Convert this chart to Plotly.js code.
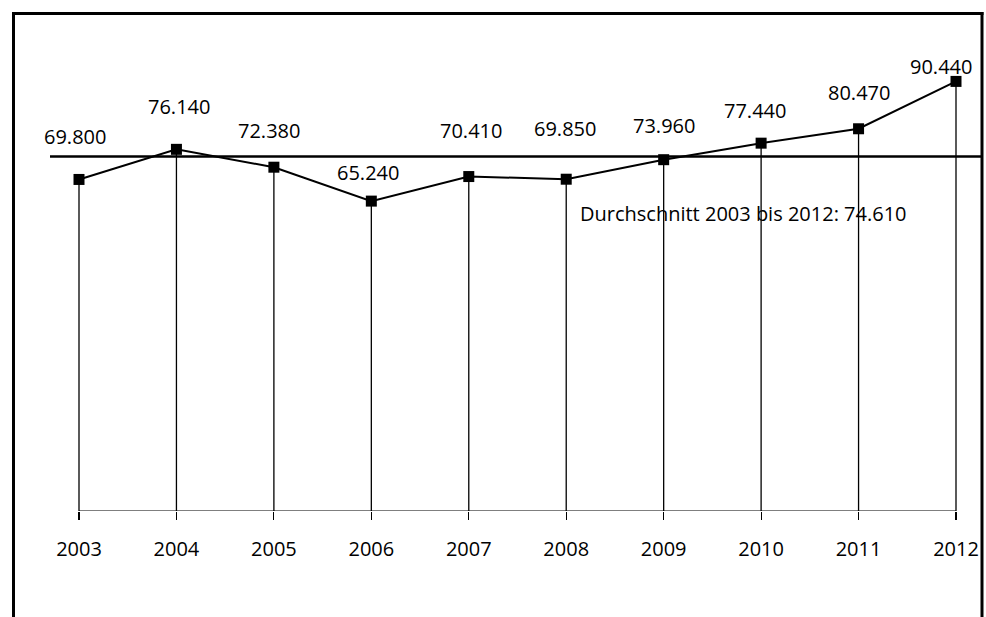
<!DOCTYPE html>
<html>
<head>
<meta charset="utf-8">
<script src="https://cdn.plot.ly/plotly-3.0.1.min.js"></script>
<style>
  html, body { margin: 0; padding: 0; background: #fff; }
  #chart { width: 986px; height: 617px; }
</style>
</head>
<body>
<div id="chart"></div>
<script>
// Yearly values 2003–2012 and their ten-year average
const years = [2003, 2004, 2005, 2006, 2007, 2008, 2009, 2010, 2011, 2012];
const values = [69800, 76140, 72380, 65240, 70410, 69850, 73960, 77440, 80470, 90440];
const avgValue = 74610;
const avgLabel = 'Durchschnitt 2003 bis 2012: ';

// Nudges (px) for the value labels above each marker
const labelLift = [43, 43, 37, 29, 46, 51, 34, 33, 36, 15];
const labelNudge = [-4, 3, -5, -3, 2, -1, 0, -6, 0, -15];

// German thousands separator
function fmt(v) {
  return String(Math.round(v)).replace(/\B(?=(\d{3})+(?!\d))/g, '.');
}

const FONT = 'Open Sans, Noto Sans, sans-serif';
const W = 986, H = 617, T = 12, B = 106;
const plotH = H - T - B;
const py = p => (H - B - p) / plotH;   // pixel row -> paper y
const px = p => p / W;                 // pixel column -> paper x

const trace = {
  x: years,
  y: values,
  type: 'scatter',
  mode: 'lines+markers',
  line: { color: '#000', width: 2 },
  marker: { symbol: 'square', size: 11, color: '#000' },
  error_y: {
    type: 'data',
    symmetric: false,
    array: values.map(() => 0),
    arrayminus: values,
    width: 0,
    thickness: 1.3,
    color: '#000'
  },
  cliponaxis: false,
  hoverinfo: 'skip'
};

const annotations = years.map((yr, i) => ({
  x: yr, y: values[i], xref: 'x', yref: 'y',
  text: fmt(values[i]),
  showarrow: false,
  yshift: labelLift[i],
  xshift: labelNudge[i],
  font: { family: FONT, size: 20, color: '#000' }
}));

annotations.push({
  x: px(578), xref: 'paper', xanchor: 'left',
  y: avgValue, yref: 'y', yshift: -57,
  text: avgLabel + fmt(avgValue),
  showarrow: false,
  font: { family: FONT, size: 20, color: '#000' }
});

const shapes = [
  // frame (open at the bottom)
  { type: 'line', xref: 'paper', yref: 'paper', x0: px(13.5), x1: px(13.5), y0: py(12), y1: py(640), line: { color: '#000', width: 3 } },
  { type: 'line', xref: 'paper', yref: 'paper', x0: px(12), x1: px(983.5), y0: py(13.5), y1: py(13.5), line: { color: '#000', width: 3 } },
  { type: 'line', xref: 'paper', yref: 'paper', x0: px(982), x1: px(982), y0: py(12), y1: py(640), line: { color: '#000', width: 3 } },
  // base line between first and last year
  { type: 'line', xref: 'x', yref: 'y', x0: years[0], x1: years[years.length - 1], y0: 0, y1: 0, line: { color: '#000', width: 1.2 } },
  // average line
  { type: 'line', xref: 'paper', yref: 'y', x0: px(50), x1: px(982), y0: avgValue, y1: avgValue, line: { color: '#000', width: 2.5 } }
];

const pxPerYear = 877 / 9;
const layout = {
  width: W, height: H,
  margin: { l: 0, r: 0, t: T, b: B, pad: 0 },
  paper_bgcolor: '#fff', plot_bgcolor: '#fff',
  showlegend: false,
  font: { family: FONT, size: 20, color: '#000' },
  xaxis: {
    range: [2003 - 79 / pxPerYear, 2012 + (W - 956) / pxPerYear],
    tickmode: 'array',
    tickvals: years,
    ticktext: years.map(String),
    ticks: 'outside', ticklen: 8, tickwidth: 1.2, tickcolor: '#000',
    ticklabelstandoff: 12,
    showgrid: false, zeroline: false, showline: false,
    tickfont: { family: FONT, size: 20, color: '#000' },
    fixedrange: true
  },
  yaxis: {
    range: [0, plotH / 4.75 * 1000],
    visible: false,
    showgrid: false, zeroline: false,
    fixedrange: true
  },
  shapes: shapes,
  annotations: annotations
};

Plotly.newPlot('chart', [trace], layout, { displayModeBar: false, staticPlot: true });
</script>
</body>
</html>
